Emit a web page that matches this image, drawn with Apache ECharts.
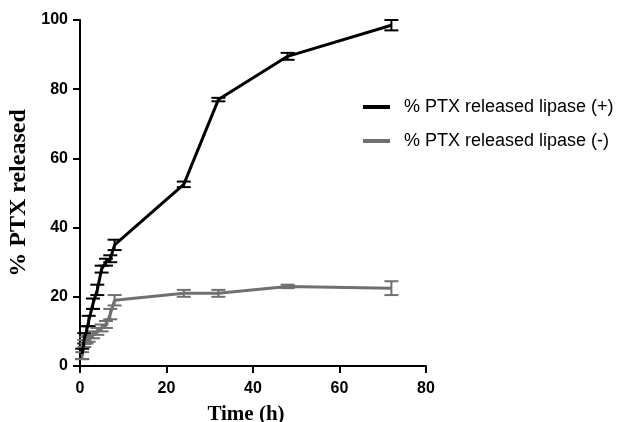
<!DOCTYPE html>
<html>
<head>
<meta charset="utf-8">
<script src="https://cdn.jsdelivr.net/npm/echarts@6/dist/echarts.min.js"></script>
<style>
	html, body { margin: 0; padding: 0; background: #fff; }
	#chart { width: 625px; height: 422px; }
</style>
</head>
<body>
<div id="chart"></div>
<script>
// sampling times (h)
const times = [0.5, 1, 1.5, 2, 3, 4, 5, 6, 7, 8, 24, 32, 48, 72]
// % PTX released, lipase (+)
const plusValues = [3.5, 8, 10, 13, 18, 22, 28, 30, 31, 35, 52.5, 77, 89.5, 98.5]
const plusErr = [1.5, 1.5, 1.5, 1.5, 1.5, 1.5, 1, 1, 1, 1.5, 0.8, 0.5, 1, 1.5]
// % PTX released, lipase (-)
const minusValues = [3, 6.5, 7.5, 8, 9, 10, 11, 12, 15, 19, 21, 21, 23, 22.5]
const minusErr = [1, 1, 1, 1, 1, 1, 1, 1, 1.5, 1.5, 1, 1, 0.5, 2]
const xTicks = [0, 20, 40, 60, 80]
const yTicks = [0, 20, 40, 60, 80, 100]

const plusName = '% PTX released lipase (+)'
const minusName = '% PTX released lipase (-)'

function pairs(vals) {
	return times.map((t, i) => [t, vals[i]])
}

function errData(vals, errs) {
	return times.map((t, i) => [t, vals[i] - errs[i], vals[i] + errs[i]])
}

function errSeries(vals, errs, color) {
	return {
		type: 'custom',
		data: errData(vals, errs),
		encode: { x: 0, y: [1, 2] },
		z: 3,
		silent: true,
		renderItem: function (params, api) {
			const lo = api.coord([api.value(0), api.value(1)])
			const hi = api.coord([api.value(0), api.value(2)])
			const w = 7
			const style = { stroke: color, lineWidth: 2 }
			return {
				type: 'group',
				children: [
					{ type: 'line', shape: { x1: hi[0], y1: hi[1], x2: lo[0], y2: lo[1] }, style: style },
					{ type: 'line', shape: { x1: hi[0] - w, y1: hi[1], x2: hi[0] + w, y2: hi[1] }, style: style },
					{ type: 'line', shape: { x1: lo[0] - w, y1: lo[1], x2: lo[0] + w, y2: lo[1] }, style: style }
				]
			}
		}
	}
}

const chart = echarts.init(document.getElementById('chart'))

const option = {
	animation: false,
	backgroundColor: '#ffffff',
	grid: { left: 80, right: 199, top: 20, bottom: 56, outerBoundsMode: 'none', containLabel: false },
	legend: {
		orient: 'vertical',
		left: 358,
		top: 93,
		itemGap: 16,
		itemWidth: 27,
		itemHeight: 4,
		icon: 'rect',
		data: [plusName, minusName],
		textStyle: {
			fontFamily: 'Liberation Sans',
			fontSize: 18,
			color: '#000',
			padding: [0, 0, 0, 9]
		}
	},
	xAxis: {
		type: 'value',
		min: 0,
		max: 80,
		interval: 20,
		name: 'Time (h)',
		nameLocation: 'middle',
		nameGap: 38,
		nameTextStyle: {
			fontFamily: 'Liberation Serif',
			fontWeight: 'bold',
			fontSize: 21,
			color: '#000',
			padding: [0, 14, 0, 0]
		},
		splitLine: { show: false },
		axisLine: { show: true, lineStyle: { color: '#000', width: 2 } },
		axisTick: { show: true, length: 7, lineStyle: { color: '#000', width: 2 } },
		axisLabel: {
			fontFamily: 'Liberation Sans',
			fontWeight: 'bold',
			fontSize: 16,
			color: '#000',
			margin: 15,
			formatter: v => xTicks.includes(v) ? String(v) : ''
		}
	},
	yAxis: {
		type: 'value',
		min: 0,
		max: 100,
		interval: 20,
		name: '% PTX released',
		nameLocation: 'middle',
		nameGap: 45,
		nameTextStyle: {
			fontFamily: 'Liberation Serif',
			fontWeight: 'bold',
			fontSize: 24,
			color: '#000'
		},
		splitLine: { show: false },
		axisLine: { show: true, lineStyle: { color: '#000', width: 2 } },
		axisTick: { show: true, length: 7, lineStyle: { color: '#000', width: 2 } },
		axisLabel: {
			fontFamily: 'Liberation Sans',
			fontWeight: 'bold',
			fontSize: 16,
			color: '#000',
			margin: 12,
			formatter: v => yTicks.includes(v) ? String(v) : ''
		}
	},
	series: [
		{
			name: plusName,
			type: 'line',
			data: pairs(plusValues),
			symbol: 'none',
			color: '#000000',
			lineStyle: { color: '#000000', width: 3 },
			z: 4
		},
		{
			name: minusName,
			type: 'line',
			data: pairs(minusValues),
			symbol: 'none',
			color: '#707070',
			lineStyle: { color: '#707070', width: 3 },
			z: 2
		},
		errSeries(plusValues, plusErr, '#000000'),
		errSeries(minusValues, minusErr, '#707070')
	]
}

chart.setOption(option)
</script>
</body>
</html>
